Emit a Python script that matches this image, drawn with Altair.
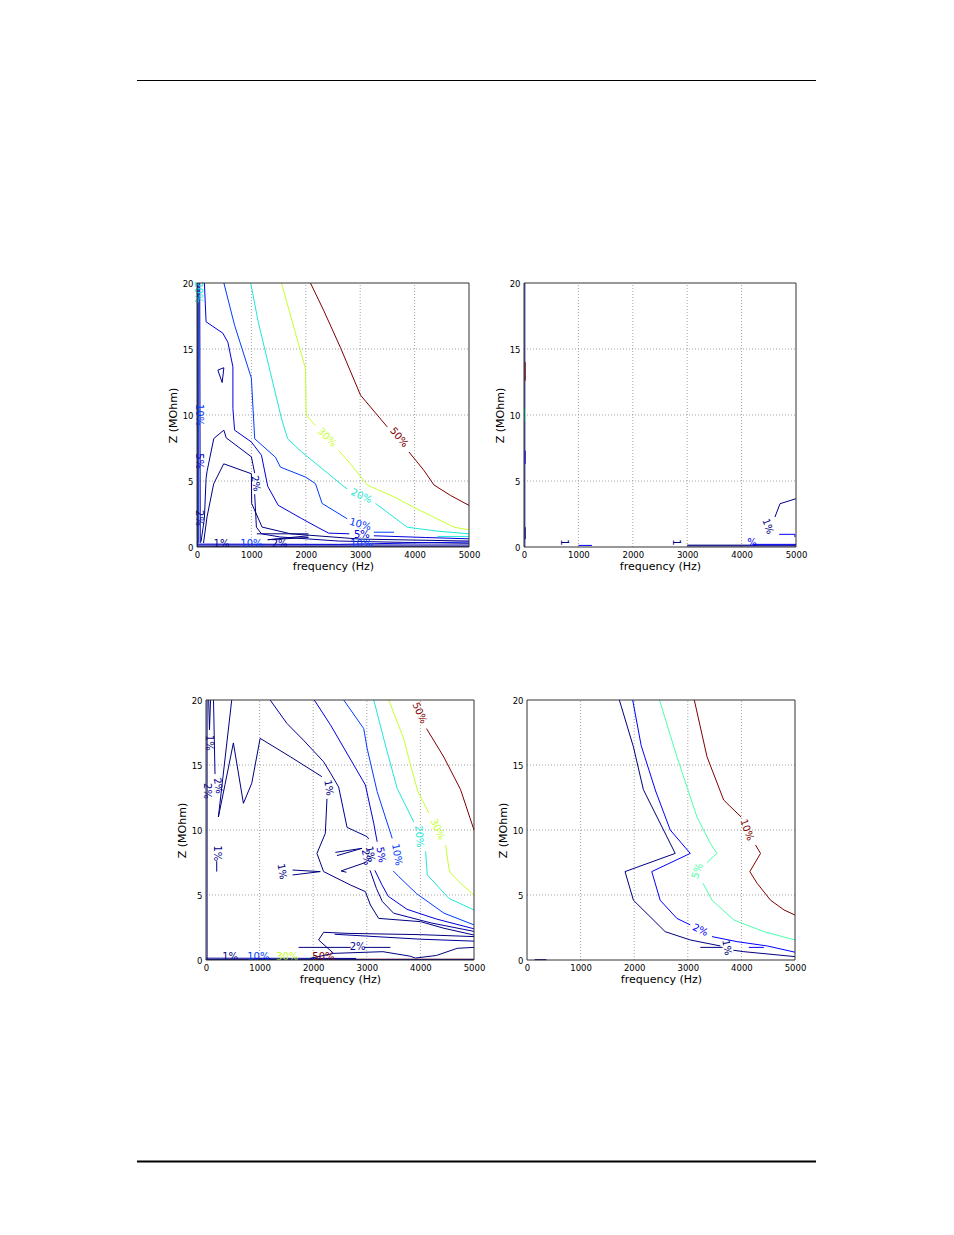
import altair as alt
import pandas as pd

W, H = 954, 1235
FONT = "DejaVu Sans"

FREQ_TICKS = [0, 1000, 2000, 3000, 4000, 5000]
Z_TICKS = [0, 5, 10, 15, 20]

JET7_LEVELS = ["1", "2", "5", "10", "20", "30", "50"]
JET7_COLORS = ["#000080", "#000096", "#0000dd", "#003cff", "#1fe8d8", "#c7ff30", "#800000"]
JET4_LEVELS = ["1", "2", "5", "10"]
JET4_COLORS = ["#000080", "#0000ff", "#4effa9", "#800000"]

# ---------------- panel 1 (top left) ----------------
P1_50A = [(2086, 20), (2331, 17.9), (2638, 15.1), (3006, 11.5), (3252, 10.3), (3497, 9.1)]
P1_50B = [(3896, 7.2), (4172, 5.8), (4356, 4.7), (4663, 3.9), (5000, 3.15)]
P1_30A = [(1552, 20), (1994, 13.5), (2006, 10.0), (2178, 9.2)]
P1_30B = [(2607, 7.3), (2822, 6.3), (3129, 4.7), (3620, 3.8), (3988, 3.0), (4724, 1.5), (5000, 1.3)]
P1_20A = [(987, 20), (1123, 17.1), (1555, 9.7), (1666, 8.2), (1925, 7.2), (2665, 4.7), (2761, 4.4)]
P1_20B = [(3282, 3.3), (3865, 1.5), (4417, 1.2), (5000, 1.0)]
P1_20C = [(4420, 0.8), (5000, 0.8)]
P1_20E = [(18, 20), (18, 18.6)]
P1_10A = [(494, 20), (691, 16.8), (999, 12.8), (1061, 8.2), (1442, 6.8), (1534, 6.05), (1994, 5.3),
          (2178, 4.8), (2300, 3.3), (2761, 2.14)]
P1_10B = [(3250, 1.12), (3620, 1.12)]
P1_10E = [(30, 20), (30, 0.3)]
P1_5A = [(136, 20), (167, 17.06), (475, 16.2), (568, 15.5), (660, 13.65), (660, 10.5), (691, 8.85),
         (999, 7.96), (1185, 6.95), (1300, 4.6), (1493, 3.16), (1925, 2.15), (2209, 1.51), (2420, 1.05),
         (2800, 1.0)]
P1_5B = [(3250, 0.85), (4200, 0.72), (5000, 0.62)]
P1_2A = [(74, 0.4), (136, 2.15), (167, 5.2), (185, 5.74), (309, 8.22), (494, 8.85), (537, 8.27),
         (1000, 6.83), (1060, 5.6)]
P1_2B = [(1060, 4.0), (1092, 1.5), (1185, 1.0), (1524, 0.76), (2600, 0.45), (3800, 0.35), (5000, 0.28)]
P1_2T = [(383, 13.4), (494, 13.58), (463, 12.46), (383, 13.4)]
P1_2E = [(50, 20), (55, 10), (60, 0.3)]
P1_1A = [(120, 0.3), (184, 2.27), (307, 4.79), (491, 6.3), (1000, 5.55), (1005, 3.3), (1196, 1.51),
         (1718, 1.0), (3000, 0.6), (5000, 0.45)]
P1_1D = [(1100, 1.0), (2050, 1.0)]
P1_1K = [(2050, 0.85), (1300, 0.55), (2050, 0.72)]
P1_1E = [(12, 20), (12, 0)]
P1_BAND1 = [(0, 0.05), (5000, 0.05)]
P1_BAND2 = [(0, 0.15), (5000, 0.15)]
P1_BAND3 = [(0, 0.22), (2600, 0.2), (5000, 0.38)]

P1_LINES = [
    ("50", P1_50A), ("50", P1_50B), ("30", P1_30A), ("30", P1_30B),
    ("20", P1_20A), ("20", P1_20B), ("20", P1_20C), ("20", P1_20E),
    ("10", P1_10A), ("10", P1_10B), ("10", P1_10E),
    ("5", P1_5A), ("5", P1_5B),
    ("2", P1_2A), ("2", P1_2B), ("2", P1_2T), ("2", P1_2E),
    ("1", P1_1A), ("1", P1_1D), ("1", P1_1K), ("1", P1_1E),
    ("1", P1_BAND1), ("2", P1_BAND2), ("5", P1_BAND3),
]
P1_LABELS = [
    ("50%", "50", 3712, 8.3, 50), ("30%", "30", 2390, 8.3, 45), ("20%", "20", 3020, 3.85, 25),
    ("10%", "10", 3000, 1.7, 15), ("5%", "5", 3030, 0.9, 0), ("2%", "2", 1075, 4.8, 80),
    ("10%", "10", 30, 10.0, 90), ("5%", "5", 30, 6.5, 90), ("2%", "2", 30, 2.2, 90), ("20%", "20", 25, 19.3, 90),
    ("1%", "1", 450, 0.25, 0), ("10%", "10", 1000, 0.25, 0), ("2%", "2", 1520, 0.25, 0), ("10%", "10", 3020, 0.25, 0),
]

# ---------------- panel 2 (top right) ----------------
P2_1E = [(15, 20), (15, 0)]
P2_10E = [(22, 14.0), (22, 12.6)]
P2_5E = [(22, 10.5), (22, 9.5)]
P2_2E = [(22, 7.3), (22, 6.3)]
P2_1E2 = [(22, 1.5), (22, 0.6)]
P2_1B = [(3000, 0.08), (5000, 0.08)]
P2_1B2 = [(3000, 0.14), (5000, 0.14)]
P2_2B = [(1000, 0.12), (1250, 0.12)]
P2_2B2 = [(4200, 0.2), (5000, 0.2)]
P2_1C = [(4613, 2.27), (4706, 3.28), (5000, 3.66)]
P2_2C = [(4690, 0.96), (4980, 0.96), (4980, 0.75)]

P2_LINES = [
    ("1", P2_1E), ("10", P2_10E), ("5", P2_5E), ("2", P2_2E), ("1", P2_1E2),
    ("1", P2_1B), ("1", P2_1B2), ("2", P2_2B), ("2", P2_2B2), ("1", P2_1C), ("2", P2_2C),
]
P2_LABELS = [
    ("1%", "1", 4480, 1.55, 70), ("1", "1", 740, 0.35, 90), ("1", "1", 2800, 0.35, 90), ("%", "2", 4190, 0.3, 0),
]

# ---------------- panel 3 (bottom left) ----------------
P3_50A = [(4114, 17.8), (4439, 15.6), (4750, 13.1), (5000, 10.0)]
P3_50B = [(2100, 0.06), (5000, 0.06)]
P3_30A = [(3410, 20), (3690, 17.0), (3816, 15.0), (3950, 13.0), (4159, 11.3)]
P3_30B = [(4470, 8.85), (4532, 7.05), (4560, 6.7), (4750, 5.9), (5000, 5.0)]
P3_30C = [(1300, 0.1), (1700, 0.1)]
P3_20A = [(3130, 20), (3317, 17.0), (3566, 13.2), (3878, 10.6)]
P3_20B = [(4097, 8.35), (4128, 6.55), (4532, 4.74), (5000, 3.85)]
P3_10A = [(2569, 20), (2943, 17.8), (3005, 16.3), (3193, 12.95), (3474, 9.36)]
P3_10B = [(3493, 6.85), (3600, 6.4), (3930, 5.1), (4440, 3.6), (5000, 2.7)]
P3_10C = [(900, 0.1), (1200, 0.1)]
P3_5A = [(2020, 20), (2320, 18.1), (2974, 13.46), (3130, 10.5), (3193, 9.1)]
P3_5B = [(3150, 6.9), (3280, 5.8), (3400, 4.9), (3750, 3.9), (4300, 3.15), (5000, 2.4)]
P3_2A = [(1197, 20), (1509, 18.2), (1820, 16.9), (2194, 15.25), (2320, 14.4), (2475, 13.3), (2632, 10.2),
         (3005, 9.49), (3036, 9.3)]
P3_2B = [(3060, 6.9), (3180, 5.5), (3290, 4.5), (3500, 3.6), (4200, 2.85), (5000, 2.2)]
P3_2C = [(2400, 1.98), (4000, 1.6), (5000, 1.45)]
P3_2L = [(140, 20), (168, 14.3)]
P3_2BT = [(0, 0.14), (2800, 0.12)]
P3_1A = [(480, 20), (231, 11.0), (355, 13.5), (511, 16.7), (698, 12.05), (854, 13.6), (1010, 17.05),
         (1571, 15.64), (2163, 14.1)]
P3_1B = [(2257, 12.4), (2226, 9.74), (2070, 8.2), (2194, 6.8), (2694, 5.77), (2974, 5.26), (3067, 4.23),
         (3222, 3.2), (4003, 2.95), (4440, 2.44), (5000, 1.92)]
P3_1S1 = [(1615, 6.92), (2132, 6.8), (1615, 6.54)]
P3_1S2 = [(2413, 8.28), (2911, 8.59), (2444, 8.03)]
P3_1S3 = [(2976, 7.5), (2520, 6.85), (2620, 6.75)]
P3_1L = [(200, 7.6), (200, 6.8)]
P3_1SP = [(50, 20), (65, 17.7), (85, 20)]
P3_1E = [(20, 20), (20, 0)]
P3_1H = [(1727, 0.97), (2700, 0.97)]
P3_1H2 = [(2950, 0.97), (3441, 0.97)]
P3_1N1 = [(2195, 2.13), (2632, 2.05), (4000, 1.95), (5000, 1.8)]
P3_1N2 = [(2195, 2.13), (2101, 1.54), (2381, 0.51), (1945, 0.13)]
P3_1N3 = [(2381, 0.51), (3300, 0.64), (3800, 0.3), (3909, 0.15), (4300, 0.35), (4688, 0.9), (5000, 0.97)]
P3_1BT = [(0, 0.04), (5000, 0.04)]

P3_LINES = [
    ("50", P3_50A), ("50", P3_50B), ("30", P3_30A), ("30", P3_30B), ("30", P3_30C),
    ("20", P3_20A), ("20", P3_20B), ("10", P3_10A), ("10", P3_10B), ("10", P3_10C),
    ("5", P3_5A), ("5", P3_5B), ("2", P3_2A), ("2", P3_2B), ("2", P3_2C), ("2", P3_2L), ("2", P3_2BT),
    ("1", P3_1A), ("1", P3_1B), ("1", P3_1S1), ("1", P3_1S2), ("1", P3_1S3), ("1", P3_1L), ("1", P3_1SP),
    ("1", P3_1E), ("1", P3_1H), ("1", P3_1H2), ("1", P3_1N1), ("1", P3_1N2), ("1", P3_1N3), ("1", P3_1BT),
]
P3_LABELS = [
    ("50%", "50", 3985, 19.0, 65), ("30%", "30", 4320, 10.05, 65), ("20%", "20", 3975, 9.5, 85),
    ("10%", "10", 3560, 8.1, 80), ("5%", "5", 3262, 8.1, 80), ("2%", "2", 2985, 7.9, 80),
    ("1%", "1", 3060, 8.15, 80), ("1%", "1", 2285, 13.25, 80), ("1%", "1", 1415, 6.8, 80),
    ("1%", "1", 200, 8.2, 90), ("2%", "2", 225, 13.4, 80), ("1%", "1", 60, 16.7, 90),
    ("2%", "2", 2830, 0.97, 0), ("2%", "2", 25, 13.0, 90),
    ("1%", "1", 450, 0.25, 0), ("10%", "10", 975, 0.25, 0), ("30%", "30", 1515, 0.25, 0), ("50%", "50", 2190, 0.25, 0),
]

# ---------------- panel 4 (bottom right) ----------------
P4_10A = [(3121, 20), (3358, 15.64), (3670, 12.3), (3995, 11.0)]
P4_10B = [(4263, 8.85), (4357, 8.2), (4157, 6.8), (4294, 5.9), (4544, 4.6), (4794, 3.85), (5000, 3.46)]
P4_5A = [(2472, 20), (2796, 15.64), (3171, 11.0), (3421, 8.97), (3545, 8.2), (3358, 7.5)]
P4_5B = [(3283, 5.9), (3452, 4.6), (3858, 3.08), (4419, 2.18), (5000, 1.54)]
P4_2A = [(1972, 20), (2130, 16.5), (2400, 13.0), (2672, 10.0), (3046, 8.2), (2328, 6.8), (2484, 4.6),
         (2796, 3.2), (3046, 2.7)]
P4_2B = [(3452, 1.8), (3920, 1.41), (4482, 1.08), (5000, 0.6)]
P4_2H = [(4138, 0.97), (4419, 0.97)]
P4_1A = [(1723, 20), (1985, 16.4), (2172, 13.1), (2547, 10.0), (2765, 8.2), (1829, 6.8), (1985, 4.6),
         (2297, 3.33), (2578, 2.18), (3046, 1.54), (3608, 1.08)]
P4_1B = [(3850, 0.75), (4045, 0.64), (5000, 0.26)]
P4_1H = [(3233, 0.97), (3650, 0.97)]
P4_1S = [(143, 0.03), (362, 0.03)]

P4_LINES = [
    ("10", P4_10A), ("10", P4_10B), ("5", P4_5A), ("5", P4_5B),
    ("2", P4_2A), ("2", P4_2B), ("2", P4_2H),
    ("1", P4_1A), ("1", P4_1B), ("1", P4_1H), ("1", P4_1S),
]
P4_LABELS = [
    ("10%", "10", 4100, 10.0, 70), ("5%", "5", 3180, 6.85, 290), ("2%", "2", 3233, 2.3, 25),
    ("1%", "1", 3725, 0.95, 80),
]

# plot-area boxes in page pixels (layout only)
BOXES = {
    1: (197, 469, 283, 547),
    2: (524, 796, 283, 547),
    3: (206, 474, 700, 960),
    4: (527, 795, 700, 960),
}


def line_frame(lines):
    rows = []
    for k, (lvl, pts) in enumerate(lines):
        for i, (f, z) in enumerate(pts):
            rows.append({"seg": k, "i": i, "lvl": lvl, "f": f, "z": z})
    return pd.DataFrame(rows)


def label_frame(labels):
    return pd.DataFrame(
        [{"txt": t, "lvl": l, "f": f, "z": z, "ang": a} for (t, l, f, z, a) in labels]
    )


def grid_frame():
    rows = []
    for f in FREQ_TICKS[1:-1]:
        rows.append({"fa": f, "fb": f, "za": Z_TICKS[0], "zb": Z_TICKS[-1]})
    for z in Z_TICKS[1:-1]:
        rows.append({"fa": FREQ_TICKS[0], "fb": FREQ_TICKS[-1], "za": z, "zb": z})
    return pd.DataFrame(rows)


def panel(pid, lines, labels, levels, colors):
    x0, x1, y0, y1 = BOXES[pid]
    xs = alt.Scale(domain=[FREQ_TICKS[0], FREQ_TICKS[-1]], range=[x0, x1], nice=False, zero=False)
    ys = alt.Scale(domain=[Z_TICKS[0], Z_TICKS[-1]], range=[y1, y0], nice=False, zero=False)
    cs = alt.Scale(domain=levels, range=colors)

    xaxis = alt.Axis(orient="bottom", offset=y1 - H, values=FREQ_TICKS, format="d", grid=False,
                     domain=False, ticks=False, labelPadding=3, labelFontSize=8.5, labelFont=FONT,
                     labelColor="black", labelFlush=False, labelOverlap=False,
                     title="frequency (Hz)", titleFont=FONT, titleFontSize=11,
                     titleFontWeight="normal", titleColor="black", titlePadding=2)
    yaxis = alt.Axis(orient="left", offset=-x0, values=Z_TICKS, format="d", grid=False,
                     domain=False, ticks=False, labelPadding=4, labelFontSize=8.5, labelFont=FONT,
                     labelColor="black", labelFlush=False, labelOverlap=False,
                     title="Z (MOhm)", titleFont=FONT, titleFontSize=11,
                     titleFontWeight="normal", titleColor="black", titlePadding=4)

    grid = alt.Chart(grid_frame()).mark_rule(color="#8c8c8c", strokeWidth=0.8, strokeDash=[1, 2]).encode(
        x=alt.X("fa:Q", scale=xs, axis=xaxis), x2="fb:Q",
        y=alt.Y("za:Q", scale=ys, axis=yaxis), y2="zb:Q",
    )
    contour = alt.Chart(line_frame(lines)).mark_line(strokeWidth=1, interpolate="linear").encode(
        x=alt.X("f:Q", scale=xs, axis=xaxis),
        y=alt.Y("z:Q", scale=ys, axis=yaxis),
        color=alt.Color("lvl:N", scale=cs, legend=None),
        detail="seg:N",
        order="i:Q",
    )
    text = alt.Chart(label_frame(labels)).mark_text(font=FONT, fontSize=10).encode(
        x=alt.X("f:Q", scale=xs, axis=xaxis),
        y=alt.Y("z:Q", scale=ys, axis=yaxis),
        text="txt:N",
        angle=alt.Angle("ang:Q", scale=None),
        color=alt.Color("lvl:N", scale=cs, legend=None),
    )
    box = pd.DataFrame({"fa": [FREQ_TICKS[0]], "fb": [FREQ_TICKS[-1]], "za": [Z_TICKS[0]], "zb": [Z_TICKS[-1]]})
    frame = alt.Chart(box).mark_rect(fill="white", fillOpacity=0, stroke="#333333", strokeWidth=1).encode(
        x=alt.X("fa:Q", scale=xs, axis=xaxis), x2="fb:Q",
        y=alt.Y("za:Q", scale=ys, axis=yaxis), y2="zb:Q",
    )
    return alt.layer(grid, contour, text, frame)


page = pd.DataFrame({"k": [0]})
top_rule = alt.Chart(page).mark_rule(color="black", strokeWidth=1).encode(
    x=alt.value(137), x2=alt.value(816), y=alt.value(80.5))
bottom_rule = alt.Chart(page).mark_rule(color="black", strokeWidth=2).encode(
    x=alt.value(137), x2=alt.value(816), y=alt.value(1161.5))

chart = alt.layer(
    top_rule, bottom_rule,
    panel(1, P1_LINES, P1_LABELS, JET7_LEVELS, JET7_COLORS),
    panel(2, P2_LINES, P2_LABELS, JET4_LEVELS, JET4_COLORS),
    panel(3, P3_LINES, P3_LABELS, JET7_LEVELS, JET7_COLORS),
    panel(4, P4_LINES, P4_LABELS, JET4_LEVELS, JET4_COLORS),
).resolve_scale(
    x="independent", y="independent", color="independent"
).properties(
    width=W, height=H, padding=0, autosize=alt.AutoSizeParams(type="none"), background="white"
).configure_view(strokeWidth=0)

chart.save("out.html", embed_options={"renderer": "svg", "actions": False})
